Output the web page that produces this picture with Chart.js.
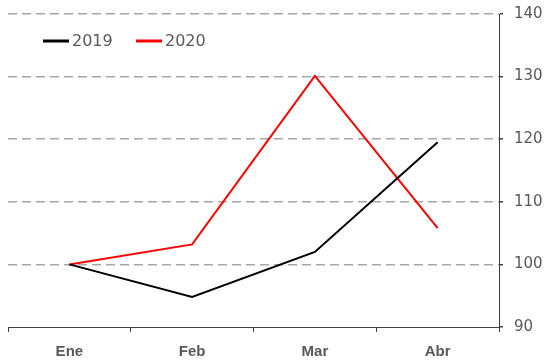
<!DOCTYPE html>
<html lang="es">
<head>
  <meta charset="UTF-8">
  <title>2019 vs 2020</title>
  <style>
    body, html { margin:0; padding:0; background:#fff; overflow:hidden; }
    #wrap { width:544px; height:360px; }
  </style>
</head>
<body>
  <div id="wrap"><canvas id="chart" width="544" height="360"></canvas></div>

  <script src="https://cdn.jsdelivr.net/npm/chart.js"></script>
  <script>
    const meses = ['Ene', 'Feb', 'Mar', 'Abr'];
    const serie2019 = [100, 94.8, 102, 119.5];
    const serie2020 = [100, 103.2, 130.1, 105.8];
    const ejeY = { min: 90, max: 140, paso: 10 };

    const gris = '#595959';

    // leyenda dibujada dentro del area del grafico, arriba a la izquierda
    const leyenda = {
      id: 'leyenda',
      afterDraw(chart) {
        const c = chart.ctx;
        let x = chart.chartArea.left + 35;
        const y = 41;
        c.save();
        c.font = '16px "DejaVu Sans"';
        c.textBaseline = 'middle';
        chart.data.datasets.forEach(ds => {
          c.strokeStyle = ds.borderColor;
          c.lineWidth = 3;
          c.beginPath();
          c.moveTo(x, y);
          c.lineTo(x + 26, y);
          c.stroke();
          c.fillStyle = gris;
          c.fillText(ds.label, x + 29, y + 1);
          x += 93;
        });
        c.restore();
      }
    };

    new Chart(document.getElementById('chart'), {
      type: 'line',
      data: {
        labels: meses,
        datasets: [
          { label: '2019', data: serie2019, borderColor: '#000000', borderWidth: 2, pointRadius: 0, tension: 0 },
          { label: '2020', data: serie2020, borderColor: '#ff0000', borderWidth: 2, pointRadius: 0, tension: 0 }
        ]
      },
      options: {
        responsive: false,
        animation: false,
        layout: { padding: { top: 14, left: 8, right: 0, bottom: 0 } },
        plugins: { legend: { display: false }, tooltip: { enabled: false } },
        scales: {
          x: {
            offset: true,
            afterFit: s => { s.height = 33; },
            grid: { offset: true, drawOnChartArea: false, drawTicks: true, tickLength: 5, tickColor: '#404040' },
            border: { color: '#404040', width: 1 },
            ticks: { color: gris, padding: 11, font: { family: 'Liberation Sans', size: 15, weight: 'bold' } }
          },
          y: {
            position: 'right',
            min: ejeY.min,
            max: ejeY.max,
            afterFit: s => { s.width = 45; s.paddingTop = 0; s.paddingBottom = 0; },
            ticks: { stepSize: ejeY.paso, color: gris, padding: 11, font: { family: 'DejaVu Sans', size: 15 } },
            grid: {
              color: ctx => ctx.tick && ctx.tick.value === ejeY.min ? 'rgba(0,0,0,0)' : '#a6a6a6',
              lineWidth: 1.5,
              tickLength: 4,
              tickColor: '#404040'
            },
            border: { color: '#404040', width: 1, dash: [9, 5] }
          }
        }
      },
      plugins: [leyenda]
    });
  </script>
</body>
</html>
